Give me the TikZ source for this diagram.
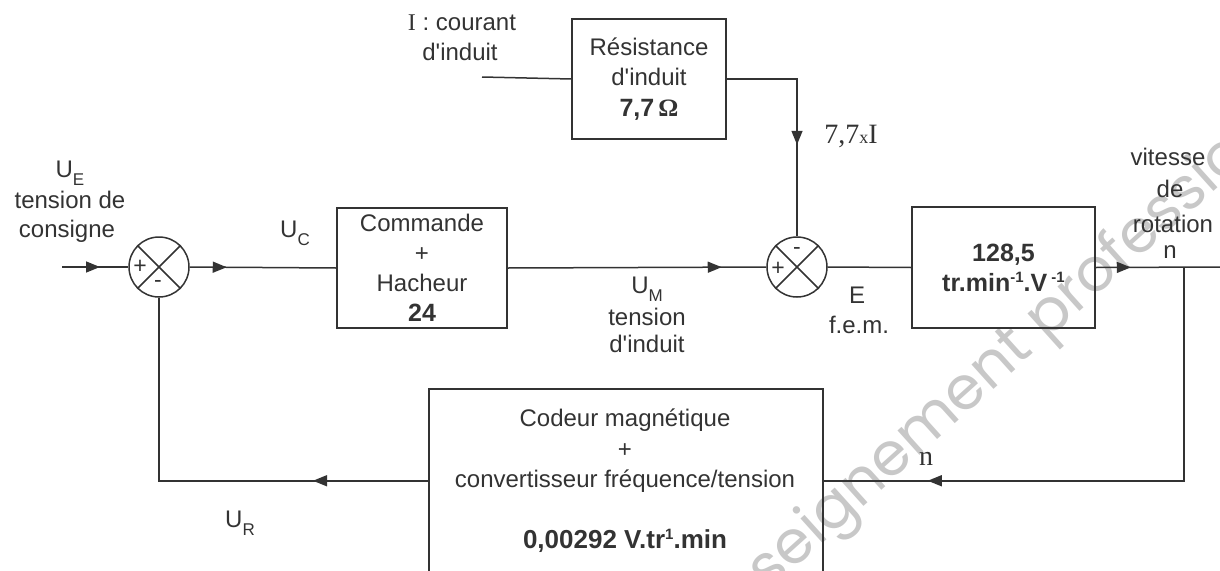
\documentclass[tikz,border=0pt]{standalone}
\usepackage{fontspec}
\setmainfont{Liberation Sans}[Ligatures=TeXOff]
\newfontfamily\seriff{Liberation Serif}[Ligatures=TeXOff]
\newfontfamily\wmfont{Poppins}
\usetikzlibrary{arrows.meta,decorations.markings}
\newcommand\fs[2]{\fontsize{#1}{#2}\selectfont}
\definecolor{ink}{HTML}{333333}
\definecolor{wmc}{HTML}{C8C8C8}
\tikzset{
 ln/.style={draw=ink, line width=1.5pt},
 blk/.style={draw=ink, line width=1.5pt, rectangle, align=center, inner sep=0pt, text=ink},
 sumj/.style={draw=ink, line width=1.5pt, circle, minimum size=60pt, inner sep=0pt},
 lbl/.style={text=ink, inner sep=0pt, anchor=base, font=\fs{24}{30}},
 sgn/.style={text=ink, inner sep=0pt, font=\fs{23}{23}},
 wmark/.style={text=wmc, inner sep=0pt, rotate=42, font=\wmfont\fs{60}{60}},
 arrowat/.style={postaction={decorate}, decoration={markings, mark=at position #1 with {\arrow{Triangle[length=14pt,width=11pt]}}}},
}
\newcommand\sub[1]{\raisebox{-8pt}{\fs{17}{17}#1}}
\newcommand\supx[1]{\raisebox{9pt}{\fs{15}{15}#1}}
\begin{document}
\begin{tikzpicture}[x=1pt,y=-1pt]
\useasboundingbox (0,0) rectangle (1220,570);
\clip (0,0) rectangle (1220,570);
% watermark
\node[wmark, anchor=base east] (wm1) at (1035,352) {enseignement};
\node[wmark, anchor=base west] (wm2) at (1046,342) {professionnel};
% blocks
\node[sumj] (s1) at (159,267) {};
\node[sumj] (s2) at (797,267) {};
\draw[ln] (s1.north east) -- (s1.south west) (s1.north west) -- (s1.south east);
\draw[ln] (s2.north east) -- (s2.south west) (s2.north west) -- (s2.south east);
\node[sgn] (s1p) at (140,267) {+};
\node[sgn] (s1m) at (158,284) {-};
\node[sgn] (s2p) at (778,269) {+};
\node[sgn] (s2m) at (797,251) {-};
\node[blk, minimum width=170pt, minimum height=120pt, font=\fs{24}{30}] (cmd) at (422,268)
  {Commande\\+\\Hacheur\\\textbf{\fs{25}{30}24}};
\node[blk, minimum width=154pt, minimum height=120pt, font=\fs{24}{30.5}] (res) at (649,79)
  {Résistance\\d'induit\\\textbf{\fs{25}{30}7,7\,{\seriff Ω}}};
\node[blk, minimum width=183pt, minimum height=121pt, font=\bfseries\fs{25}{30}] (gain) at (1003.5,267.5)
  {128,5\\tr.min\supx{-1}.V\,\supx{-1}};
\node[blk, minimum width=394pt, minimum height=184pt, anchor=north west] (cod) at (428,388) {};
\node[lbl, align=center, anchor=north, font=\fs{24}{30.5}] (codt) at (625,409)
  {Codeur magnétique\\+\\convertisseur fréquence/tension\\[30pt]\textbf{\fs{26}{30}0,00292 V.tr\supx{1}.min}};
% coordinates
\coordinate (in) at (62,267);
\coordinate (iin) at (482,77);
\coordinate (out) at (1220,267);
\coordinate (br) at (1184,267);
% connectors
\draw[ln, arrowat=38pt] (in) -- (s1.west);
\draw[ln, arrowat=37pt] (s1.east) -- (cmd.west);
\draw[ln, arrowat=214pt] (cmd.east) -- (s2.west);
\draw[ln] (iin) -- (res.west);
\draw[ln, arrowat=136pt] (res.east) -| (s2.north);
\draw[ln] (s2.east) -- (gain.west);
\draw[ln, arrowat=35pt] (gain.east) -- (out);
\draw[ln, arrowat=470pt] (br) |- (cod.east);
\draw[ln, arrowat=115pt] (cod.west) -| (s1.south);
% labels
\node[lbl] (ue) at (70,177) {U\sub{E}};
\node[lbl] (ue2) at (70,208) {tension de};
\node[lbl] (ue3) at (67,237) {consigne};
\node[lbl] (uc) at (295,237) {U\sub{C}};
\node[lbl] (um) at (647,293) {U\sub{M}};
\node[lbl] (um2) at (647,325) {tension};
\node[lbl] (um3) at (647,352) {d'induit};
\node[lbl] (ic) at (462,30) {{\seriff I} : courant};
\node[lbl] (ic2) at (460,60) {d'induit};
\node[lbl, font=\seriff\fs{28}{30}] (ri) at (851,143) {7,7{\fs{18}{20}x}I};
\node[lbl] (e1) at (857,303) {E};
\node[lbl] (e2) at (859,333) {f.e.m.};
\node[lbl] (v1) at (1168,165) {vitesse};
\node[lbl] (v2) at (1170,197) {de};
\node[lbl] (v3) at (1173,232) {rotation};
\node[lbl] (v4) at (1170,258) {n};
\node[lbl, font=\seriff\fs{28}{30}] (nb) at (926,465) {n};
\node[lbl] (ur) at (240,527) {U\sub{R}};
\end{tikzpicture}
\end{document}
